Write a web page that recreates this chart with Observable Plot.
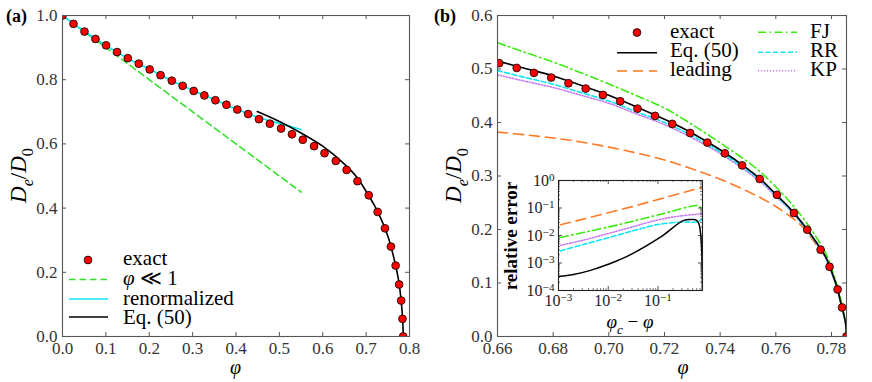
<!DOCTYPE html>
<html><head><meta charset="utf-8">
<script src="https://cdn.jsdelivr.net/npm/d3@7"></script>
<script src="https://cdn.jsdelivr.net/npm/@observablehq/plot@0.6"></script>
<style>
body{margin:0;background:#fff;}
#fig{position:relative;width:872px;height:382px;overflow:hidden;background:#fff;font-family:"Liberation Serif",serif;}
#fig svg, #fig svg text, #fig svg tspan{font-family:"Liberation Serif",serif !important;}
</style></head><body><div id="fig"></div>
<script>
// ---------- Panel (a) ----------
const aExactPhi = [0, 0.0253, 0.0507, 0.076, 0.1005, 0.1258, 0.1505, 0.1758, 0.201, 0.226, 0.252, 0.277, 0.3025, 0.327, 0.3525, 0.378, 0.403, 0.428, 0.453, 0.478, 0.504, 0.529, 0.554, 0.58, 0.604, 0.63, 0.655, 0.68, 0.706, 0.7265, 0.7435, 0.7572, 0.768, 0.7761, 0.7808, 0.7838, 0.7854];
const aExactD = [1.0, 0.974, 0.950, 0.927, 0.907, 0.886, 0.867, 0.850, 0.832, 0.814, 0.797, 0.781, 0.765, 0.751, 0.736, 0.722, 0.707, 0.693, 0.677, 0.663, 0.648, 0.630, 0.613, 0.593, 0.571, 0.547, 0.519, 0.484, 0.440, 0.388, 0.337, 0.280, 0.221, 0.162, 0.112, 0.055, 0];
const aSmallPhi = [0, 0.55];
const aSmallD = [1.0, 0.45];
const aRenormPhi = [0, 0.05, 0.1, 0.15, 0.2, 0.25, 0.3, 0.35, 0.4, 0.45, 0.5, 0.55];
const aRenormD = [1.0, 0.951, 0.907, 0.867, 0.833, 0.798, 0.767, 0.738, 0.709, 0.683, 0.664, 0.645];
const aEq50Phi = [0.449, 0.5, 0.55, 0.6, 0.65, 0.68, 0.70, 0.72, 0.74, 0.75, 0.76, 0.77, 0.775, 0.78, 0.783, 0.7845, 0.7851, 0.7854];
const aEq50D = [0.701, 0.670, 0.634, 0.593, 0.537, 0.494, 0.452, 0.406, 0.349, 0.313, 0.266, 0.209, 0.173, 0.122, 0.078, 0.045, 0.025, 0];
const aXTicks = [0, 0.1, 0.2, 0.3, 0.4, 0.5, 0.6, 0.7, 0.8];
const aYTicks = [0, 0.2, 0.4, 0.6, 0.8, 1.0];

// ---------- Panel (b) ----------
const bExactPhi = [0.6606, 0.6669, 0.6731, 0.6793, 0.6855, 0.6917, 0.6979, 0.7041, 0.7103, 0.7166, 0.7228, 0.7292, 0.7354, 0.7417, 0.7479, 0.7542, 0.7604, 0.7665, 0.7713, 0.7761, 0.7793, 0.7822, 0.7838, 0.7854];
const bExactD = [0.5108, 0.502, 0.4928, 0.484, 0.4734, 0.4634, 0.4516, 0.4397, 0.426, 0.4124, 0.3974, 0.3805, 0.3624, 0.3424, 0.3199, 0.2945, 0.2648, 0.2309, 0.1996, 0.1622, 0.1304, 0.088, 0.0543, 0.0];
const bPhi = [0.66, 0.67, 0.68, 0.69, 0.70, 0.71, 0.72, 0.73, 0.74, 0.75, 0.755, 0.76, 0.765, 0.77, 0.775, 0.778, 0.78, 0.782, 0.7835, 0.7845, 0.7851, 0.7854];
const bEq50 = [0.515, 0.501, 0.487, 0.4695, 0.451, 0.429, 0.406, 0.380, 0.349, 0.313, 0.292, 0.266, 0.240, 0.209, 0.173, 0.148, 0.122, 0.092, 0.060, 0.040, 0.024, 0];
const bFJ = [0.549, 0.531, 0.513, 0.493, 0.472, 0.450, 0.427, 0.396, 0.362, 0.326, 0.305, 0.280, 0.252, 0.220, 0.182, 0.155, 0.128, 0.096, 0.066, 0.042, 0.022, 0];
const bRR = [0.497, 0.484, 0.4715, 0.456, 0.440, 0.420, 0.400, 0.375, 0.345, 0.310, 0.290, 0.264, 0.238, 0.207, 0.172, 0.147, 0.121, 0.091, 0.059, 0.039, 0.023, 0];
const bKP = [0.489, 0.477, 0.4655, 0.451, 0.436, 0.416, 0.396, 0.371, 0.342, 0.307, 0.287, 0.262, 0.237, 0.206, 0.171, 0.146, 0.120, 0.090, 0.058, 0.038, 0.022, 0];
const bLeading = [0.382, 0.377, 0.371, 0.3635, 0.354, 0.343, 0.330, 0.313, 0.294, 0.271, 0.258, 0.243, 0.225, 0.203, 0.168, 0.146, 0.121, 0.091, 0.059, 0.038, 0.022, 0];
const bXTicks = [0.66, 0.68, 0.70, 0.72, 0.74, 0.76, 0.78];
const bYTicks = [0, 0.1, 0.2, 0.3, 0.4, 0.5, 0.6];

// ---------- Inset: relative error vs (phi_c - phi) ----------
const inLeadingX = [0.0011, 0.0327, 0.7854];
const inLeadingY = [0.0245, 0.116, 0.57];
const inFJX = [0.0011, 0.015, 0.1, 0.62, 0.70, 0.7854];
const inFJY = [0.0085, 0.024, 0.056, 0.123, 0.112, 0.082];
const inKPX = [0.0011, 0.00316, 0.01, 0.0316, 0.1, 0.316, 0.7854];
const inKPY = [0.0044, 0.0068, 0.0118, 0.0209, 0.0372, 0.0525, 0.0617];
const inRRX = [0.0011, 0.00316, 0.01, 0.0316, 0.1, 0.316, 0.63, 0.7854];
const inRRY = [0.0028, 0.0047, 0.0083, 0.0148, 0.0251, 0.0309, 0.0316, 0.0407];
const inEq50X = [0.001, 0.002, 0.0044, 0.01, 0.024, 0.112, 0.33, 0.5, 0.59, 0.665, 0.743, 0.772, 0.7854];
const inEq50Y = [3.24e-4, 3.8e-4, 5.4e-4, 9.0e-4, 1.74e-3, 8.7e-3, 0.0355, 0.038, 0.036, 0.0266, 0.0058, 5e-4, 5e-5];
const inXTicks = [1e-3, 1e-2, 1e-1];
const inYTicks = [1e-4, 1e-3, 1e-2, 1e-1, 1];

// ---------- styles ----------
const FONT = '"Liberation Serif", serif';
const RED = "#ff0000", CYAN = "#12e4f0", GREEN = "#33e02a", GREEN2 = "#3cea12",
      ORANGE = "#ff7a26", VIOLET = "#c779f0", FRAME = "#555";

const fig = document.getElementById("fig");
const pts = (xs, ys) => xs.map((x, i) => ({x, y: ys[i]}));
function place(el, left, top) {
  el.style.position = "absolute"; el.style.left = left + "px"; el.style.top = top + "px";
  fig.appendChild(el); return el;
}
function frameTicks(xt, yt, fw, fh, len, stroke, sw) {
  return [
    Plot.tickX(xt, {x: d => d, insetTop: fh - len, stroke, strokeWidth: sw}),
    Plot.tickX(xt, {x: d => d, insetBottom: fh - len, stroke, strokeWidth: sw}),
    Plot.tickY(yt, {y: d => d, insetRight: fw - len, stroke, strokeWidth: sw}),
    Plot.tickY(yt, {y: d => d, insetLeft: fw - len, stroke, strokeWidth: sw})
  ];
}
const baseStyle = (fs, color) => ({background: "transparent", fontFamily: FONT, fontSize: fs, color, overflow: "visible"});

// ---------- Panel (a) plot ----------
const plotA = Plot.plot({
  width: 430, height: 382,
  marginLeft: 62, marginRight: 21, marginTop: 15, marginBottom: 46,
  style: baseStyle("17px", "#333"),
  x: {domain: [0, 0.8], ticks: aXTicks, tickFormat: d => d.toFixed(1), tickSize: 0, tickPadding: 5, label: null},
  y: {domain: [0, 1], ticks: aYTicks, tickFormat: d => d.toFixed(1), tickSize: 0, tickPadding: 5, label: null},
  marks: [
    Plot.line(pts(aSmallPhi, aSmallD), {x: "x", y: "y", stroke: GREEN, strokeWidth: 1.6, strokeDasharray: "6.5,4", clip: true}),
    Plot.line(pts(aRenormPhi, aRenormD), {x: "x", y: "y", stroke: CYAN, strokeWidth: 1.7, curve: "catmull-rom", clip: true}),
    Plot.line(pts(aEq50Phi, aEq50D), {x: "x", y: "y", stroke: "#000", strokeWidth: 1.6, curve: "catmull-rom", clip: true}),
    Plot.dot(pts(aExactPhi, aExactD), {x: "x", y: "y", r: 3.9, fill: RED, stroke: "#000", strokeWidth: 0.8, clip: true}),
    ...frameTicks(aXTicks, aYTicks, 347, 321, 4, FRAME, 1),
    Plot.frame({stroke: FRAME, strokeWidth: 1.1})
  ]
});
place(plotA, 0, 0);

// ---------- Panel (b) plot ----------
const plotB = Plot.plot({
  width: 442, height: 382,
  marginLeft: 67, marginRight: 26, marginTop: 15, marginBottom: 46,
  style: baseStyle("17px", "#333"),
  x: {domain: [0.66, 0.7854], ticks: bXTicks, tickFormat: d => d.toFixed(2), tickSize: 0, tickPadding: 5, label: null},
  y: {domain: [0, 0.6], ticks: bYTicks, tickFormat: d => d.toFixed(1), tickSize: 0, tickPadding: 5, label: null},
  marks: [
    Plot.line(pts(bPhi, bLeading), {x: "x", y: "y", stroke: ORANGE, strokeWidth: 1.6, strokeDasharray: "10,6", curve: "catmull-rom", clip: true}),
    Plot.line(pts(bPhi, bKP), {x: "x", y: "y", stroke: VIOLET, strokeWidth: 1.6, strokeDasharray: "1.2,1.8", curve: "catmull-rom", clip: true}),
    Plot.line(pts(bPhi, bRR), {x: "x", y: "y", stroke: CYAN, strokeWidth: 1.6, strokeDasharray: "5,2.5", curve: "catmull-rom", clip: true}),
    Plot.line(pts(bPhi, bFJ), {x: "x", y: "y", stroke: GREEN2, strokeWidth: 1.6, strokeDasharray: "8,3.5,1.5,3.5", curve: "catmull-rom", clip: true}),
    Plot.line(pts(bPhi, bEq50), {x: "x", y: "y", stroke: "#000", strokeWidth: 1.6, curve: "catmull-rom", clip: true}),
    Plot.dot(pts(bExactPhi, bExactD), {x: "x", y: "y", r: 3.9, fill: RED, stroke: "#000", strokeWidth: 0.8, clip: true}),
    ...frameTicks(bXTicks, bYTicks, 349, 321, 4, FRAME, 1),
    Plot.frame({stroke: FRAME, strokeWidth: 1.1})
  ]
});
place(plotB, 430, 0);

// ---------- Inset plot ----------
const minorX = [], minorY = [];
for (const d of [1e-3, 1e-2, 1e-1]) for (let k = 2; k <= 9; k++) if (k * d < 0.7854) minorX.push(k * d);
for (const d of [1e-4, 1e-3, 1e-2, 1e-1]) for (let k = 2; k <= 9; k++) minorY.push(k * d);
const expFmt = d => "e" + Math.round(Math.log10(d));
const plotI = Plot.plot({
  width: 212, height: 160,
  marginLeft: 60, marginRight: 8, marginTop: 8, marginBottom: 42,
  style: baseStyle("16px", "#222"),
  x: {type: "log", domain: [1e-3, 0.7854], ticks: inXTicks, tickFormat: expFmt, tickSize: 0, tickPadding: 4, label: null},
  y: {type: "log", domain: [1e-4, 1], ticks: inYTicks, tickFormat: expFmt, tickSize: 0, tickPadding: 4, label: null},
  marks: [
    Plot.frame({fill: "white", stroke: "none"}),
    Plot.line(pts(inLeadingX, inLeadingY), {x: "x", y: "y", stroke: ORANGE, strokeWidth: 1.6, strokeDasharray: "10,6", clip: true}),
    Plot.line(pts(inFJX, inFJY), {x: "x", y: "y", stroke: GREEN2, strokeWidth: 1.6, strokeDasharray: "8,3.5,1.5,3.5", curve: "catmull-rom", clip: true}),
    Plot.line(pts(inKPX, inKPY), {x: "x", y: "y", stroke: VIOLET, strokeWidth: 1.6, strokeDasharray: "1.2,1.8", curve: "catmull-rom", clip: true}),
    Plot.line(pts(inRRX, inRRY), {x: "x", y: "y", stroke: CYAN, strokeWidth: 1.6, strokeDasharray: "5,2.5", curve: "catmull-rom", clip: true}),
    Plot.line(pts(inEq50X, inEq50Y), {x: "x", y: "y", stroke: "#000", strokeWidth: 1.5, curve: "catmull-rom", clip: true}),
    ...frameTicks(inXTicks, inYTicks, 144, 110, 4, "#222", 0.8),
    ...frameTicks(minorX, minorY, 144, 110, 2, "#222", 0.6),
    Plot.frame({stroke: "#222", strokeWidth: 1.1})
  ]
});
d3.select(plotI).selectAll("text").each(function () {
  const m = /^e(-?\d+)$/.exec(this.textContent);
  if (!m) return;
  this.textContent = "10";
  d3.select(this).append("tspan").attr("dy", "-0.45em").style("font-size", "70%").text(m[1].replace("-", "\u2212"));
});
place(plotI, 498, 172);

// ---------- Overlay: labels & legends ----------
const ov = d3.select(fig).append("svg")
  .attr("width", 872).attr("height", 382)
  .style("position", "absolute").style("left", "0px").style("top", "0px")
  .style("font-family", FONT);
function rich(x, y, fs, parts, o = {}) {
  const t = ov.append("text").attr("x", x).attr("y", y).attr("font-size", fs).attr("fill", o.fill || "#000");
  if (o.anchor) t.attr("text-anchor", o.anchor);
  if (o.weight) t.attr("font-weight", o.weight);
  if (o.rotate) t.attr("transform", `rotate(${o.rotate},${x},${y})`);
  let shift = 0;
  for (const p of parts) {
    const s = typeof p === "string" ? {t: p} : p;
    const ts = t.append("tspan").text(s.t);
    const target = s.sub ? fs * 0.3 : 0;
    if (target !== shift) { ts.attr("dy", target - shift); shift = target; }
    if (s.sub) ts.attr("font-size", fs * 0.7);
    if (s.i) ts.attr("font-style", "italic");
  }
  return t;
}
const PHI = {t: "\u03c6", i: true};
const DeD0 = [{t: "D", i: 1}, {t: "e", i: 1, sub: 1}, "/", {t: "D", i: 1}, {t: "0", sub: 1}];

rich(6, 22, 18, ["(a)"], {weight: "bold"});
rich(434, 22, 18, ["(b)"], {weight: "bold"});
rich(26, 175.5, 23, DeD0, {anchor: "middle", rotate: -90});
rich(461, 175.5, 23, DeD0, {anchor: "middle", rotate: -90});
rich(235.5, 374, 20, [PHI], {anchor: "middle"});
rich(683, 374, 20, [PHI], {anchor: "middle"});
rich(517, 236, 19, ["relative error"], {anchor: "middle", rotate: -90, weight: "bold"});
rich(630, 328, 19, [PHI, {t: "c", i: 1, sub: 1}, " \u2212 ", PHI], {anchor: "middle"});

function legLine(x1, x2, y, stroke, dash, sw = 1.6) {
  const l = ov.append("line").attr("x1", x1).attr("x2", x2).attr("y1", y).attr("y2", y)
    .attr("stroke", stroke).attr("stroke-width", sw);
  if (dash) l.attr("stroke-dasharray", dash);
}
function legDot(x, y) {
  ov.append("circle").attr("cx", x).attr("cy", y).attr("r", 3.9).attr("fill", RED).attr("stroke", "#000").attr("stroke-width", 0.8);
}
// legend (a)
legDot(88, 260);
legLine(69, 108, 279.5, GREEN, "6.5,4");
legLine(69, 108, 299, CYAN, null, 1.7);
legLine(69, 108, 317, "#000", null);
rich(123, 265, 21, ["exact"]);
rich(123, 285, 21, [PHI, " \u226a 1"]);
rich(123, 304.5, 21, ["renormalized"]);
rich(123, 323.5, 21, ["Eq. (50)"]);
// legend (b)
legDot(637, 32.5);
legLine(617, 657, 52.7, "#000", null);
legLine(617, 657, 71, ORANGE, "10,6");
rich(670, 37.5, 21, ["exact"]);
rich(670, 57, 21, ["Eq. (50)"]);
rich(670, 76, 21, ["leading"]);
legLine(758, 797, 32.3, GREEN2, "8,3.5,1.5,3.5");
legLine(758, 797, 52.3, CYAN, "5,2.5");
legLine(758, 797, 70.7, VIOLET, "1.2,1.8");
rich(810, 37.5, 21, ["FJ"]);
rich(810, 57, 21, ["RR"]);
rich(810, 76, 21, ["KP"]);
</script></body></html>
